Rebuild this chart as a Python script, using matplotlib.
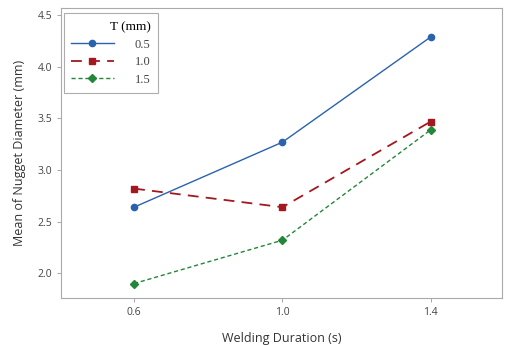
import matplotlib
matplotlib.use("Agg")
import matplotlib.pyplot as plt

durations = [0.6, 1.0, 1.4]
tick_labels = ["0.6", "1.0", "1.4"]
thickness_labels = ["0.5", "1.0", "1.5"]
nugget_05 = [2.64, 3.27, 4.29]
nugget_10 = [2.82, 2.64, 3.47]
nugget_15 = [1.90, 2.32, 3.39]
y_ticks = [2.0, 2.5, 3.0, 3.5, 4.0, 4.5]

fig = plt.figure(figsize=(5.05, 3.45), dpi=100)
ax = fig.add_axes([61/505, 47/345, 441/505, 290/345])

l1, = ax.plot(durations, nugget_05, color="#2a62ad", lw=1.0, ls="-",
              marker="o", ms=4.5, label=thickness_labels[0])
l2, = ax.plot(durations, nugget_10, color="#a3181e", lw=1.3, ls=(0, (6, 4)),
              marker="s", ms=5, label=thickness_labels[1])
l3, = ax.plot(durations, nugget_15, color="#23873a", lw=1.0, ls=(0, (3, 2)),
              marker="D", ms=4.5, label=thickness_labels[2])

ax.set_xlim(0.403, 1.592)
ax.set_ylim(1.76, 4.57)
ax.set_xticks(durations)
ax.set_xticklabels(tick_labels)
ax.set_yticks(y_ticks)
ax.set_yticklabels([f"{v:.1f}" for v in y_ticks])

font = "Open Sans"
for lab in ax.get_xticklabels() + ax.get_yticklabels():
    lab.set_fontfamily(font)
    lab.set_fontsize(7.5)
ax.tick_params(axis="both", colors="#999999", length=3, width=0.6, labelcolor="#444444")
for s in ax.spines.values():
    s.set_color("#aaaaaa")
    s.set_linewidth(0.8)

ax.set_xlabel("Welding Duration (s)", fontfamily=font, fontsize=9, color="#333333", labelpad=10)
ax.set_ylabel("Mean of Nugget Diameter (mm)", fontfamily=font, fontsize=9, color="#333333", labelpad=8)

leg = ax.legend(handles=[l1, l2, l3], title="T (mm)", loc="upper left",
                bbox_to_anchor=(0.0, 0.99), borderaxespad=0.2, frameon=True, fancybox=False,
                edgecolor="#999999", handlelength=3.4, handletextpad=1.7,
                borderpad=0.6, labelspacing=0.45, alignment="right",
                prop={"family": "Liberation Serif", "size": 9})
leg.get_title().set_fontfamily("Liberation Serif")
leg.get_title().set_fontsize(9.5)
leg.get_frame().set_linewidth(0.8)
for t in leg.get_texts():
    t.set_color("#444444")

fig.savefig("out.png", dpi=100)
